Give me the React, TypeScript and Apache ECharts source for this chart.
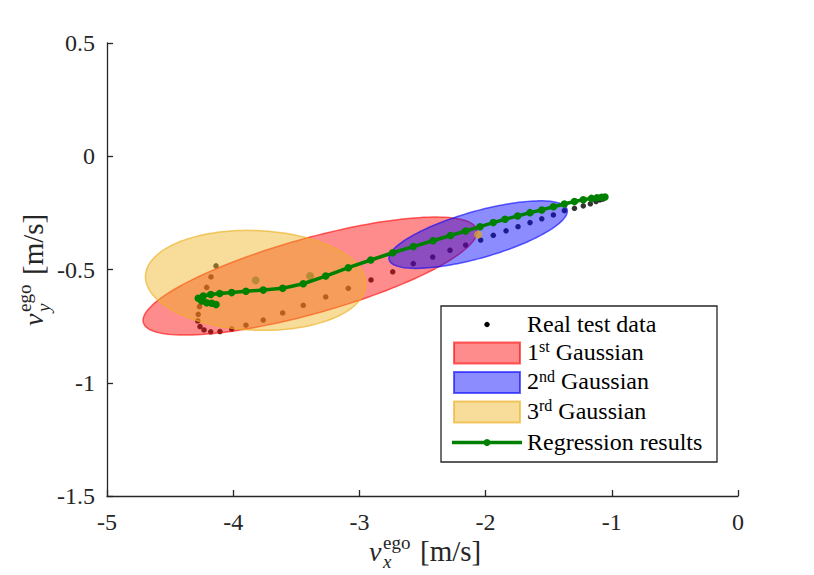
import React, { useEffect, useRef } from "react";
import * as echarts from "echarts";

// Real test data (v_x, v_y) [m/s]
const testX = [-1.070, -1.094, -1.125, -1.170, -1.226, -1.296, -1.376, -1.463, -1.555, -1.648, -1.743, -1.838, -1.939, -2.039, -2.158, -2.282, -2.419, -2.573, -2.736, -2.908, -3.088, -3.267, -3.445, -3.608, -3.762, -3.899, -4.012, -4.105, -4.178, -4.231, -4.263, -4.281, -4.277, -4.267, -4.239, -4.210, -4.176, -4.136];
const testY = [-0.189, -0.193, -0.200, -0.210, -0.219, -0.230, -0.240, -0.259, -0.276, -0.293, -0.311, -0.329, -0.349, -0.370, -0.392, -0.415, -0.445, -0.474, -0.510, -0.546, -0.583, -0.621, -0.658, -0.692, -0.723, -0.746, -0.763, -0.774, -0.775, -0.767, -0.752, -0.727, -0.698, -0.664, -0.621, -0.579, -0.533, -0.484];

// Regression results
const regX = [-1.054, -1.080, -1.117, -1.161, -1.226, -1.296, -1.376, -1.463, -1.555, -1.648, -1.746, -1.846, -1.939, -2.044, -2.158, -2.278, -2.417, -2.573, -2.736, -2.910, -3.088, -3.267, -3.445, -3.608, -3.762, -3.899, -4.012, -4.107, -4.178, -4.237, -4.277, -4.250, -4.210, -4.170, -4.136];
const regY = [-0.180, -0.181, -0.183, -0.186, -0.192, -0.200, -0.211, -0.223, -0.237, -0.249, -0.264, -0.278, -0.293, -0.311, -0.330, -0.350, -0.373, -0.399, -0.426, -0.458, -0.492, -0.529, -0.563, -0.583, -0.591, -0.596, -0.602, -0.606, -0.610, -0.617, -0.627, -0.639, -0.647, -0.649, -0.655];

// Gaussian components: means and covariances (contour drawn at 1 "sigma" of these)
const gaussOrdinals = ["1", "2", "3"];
const gaussSuffixes = ["st", "nd", "rd"];
const gaussMeanX = [-3.391, -2.059, -3.822];
const gaussMeanY = [-0.529, -0.346, -0.548];
const gaussCovXX = [1.751, 0.4996, 0.7625];
const gaussCovXY = [0.2589, 0.0735, -0.0140];
const gaussCovYY = [0.0679, 0.02227, 0.04873];

const xTicks = [-5, -4, -3, -2, -1, 0];
const yTicks = [-1.5, -1, -0.5, 0, 0.5];

const SERIF = "Liberation Serif, Times New Roman, serif";
const AX = "#262626";
const gaussFill = ["rgba(255,0,0,0.45)", "rgba(0,0,255,0.45)", "rgba(237,177,32,0.45)"];
const gaussStroke = ["rgba(255,0,0,0.6)", "rgba(0,0,255,0.6)", "rgba(237,177,32,0.65)"];
const centerColor = ["#a8862a", "#dca02a", "#a8862a"];
const GREEN = "#008000";

function axisTitle(x: number, y: number, sub: string, rotation: number) {
  return {
    type: "group",
    x,
    y,
    rotation,
    children: [
      { type: "text", x: -56, y: 0, style: { text: "v", fontFamily: SERIF, fontStyle: "italic", fontSize: 28, fill: AX, verticalAlign: "middle" } },
      { type: "text", x: -42, y: -9, style: { text: "ego", fontFamily: SERIF, fontSize: 19, fill: AX, verticalAlign: "middle" } },
      { type: "text", x: -42, y: 10, style: { text: sub, fontFamily: SERIF, fontStyle: "italic", fontSize: 19, fill: AX, verticalAlign: "middle" } },
      { type: "text", x: -5, y: 0, style: { text: "[m/s]", fontFamily: SERIF, fontSize: 29, fill: AX, verticalAlign: "middle" } },
    ],
  };
}

export default function App() {
  const ref = useRef<HTMLDivElement>(null);
  useEffect(() => {
    if (!ref.current) return;
    const chart = echarts.init(ref.current, null, { renderer: "svg" });

    const testData = testX.map((x, i) => [x, testY[i]]);
    const regData = regX.map((x, i) => [x, regY[i]]);
    const gaussData = gaussMeanX.map((mx, i) => [mx, gaussMeanY[i], gaussCovXX[i], gaussCovXY[i], gaussCovYY[i]]);
    const centerData = gaussMeanX.map((mx, i) => ({ value: [mx, gaussMeanY[i]], itemStyle: { color: centerColor[i] } }));

    const rowY = [323.5, 353, 382.5, 412, 441.5];
    const legendText = (y: number, text: string, rich?: any) => ({
      type: "text",
      x: 527,
      y,
      z: 102,
      style: {
        text,
        fontFamily: SERIF,
        fontSize: 24,
        fill: "#000",
        verticalAlign: "middle",
        rich,
      },
    });
    const rich = {
      n: { fontFamily: SERIF, fontSize: 24, fill: "#000", lineHeight: 25, verticalAlign: "bottom" },
      s: { fontFamily: SERIF, fontSize: 16, fill: "#000", lineHeight: 15, verticalAlign: "top" },
    };

    const legendEls: any[] = [
      { type: "rect", z: 100, shape: { x: 441, y: 306, width: 276, height: 156 }, style: { fill: "#fff", stroke: AX, lineWidth: 1.3 } },
      { type: "circle", z: 101, shape: { cx: 487, cy: rowY[0] + 1, r: 2.7 }, style: { fill: "#000" } },
      legendText(rowY[0], "Real test data"),
    ];
    gaussOrdinals.forEach((o, i) => {
      legendEls.push({
        type: "rect",
        z: 101,
        shape: { x: 454, y: rowY[i + 1] - 10.5, width: 66, height: 21 },
        style: { fill: gaussFill[i], stroke: gaussStroke[i], lineWidth: 2 },
      });
      legendEls.push(legendText(rowY[i + 1] - 2, `{n|${o}}{s|${gaussSuffixes[i]}}{n| Gaussian}`, rich));
    });
    legendEls.push({ type: "line", z: 101, shape: { x1: 452, y1: rowY[4] + 1, x2: 522, y2: rowY[4] + 1 }, style: { stroke: GREEN, lineWidth: 3.5 } });
    legendEls.push({ type: "circle", z: 102, shape: { cx: 487, cy: rowY[4] + 1, r: 3.5 }, style: { fill: GREEN } });
    legendEls.push(legendText(rowY[4], "Regression results"));

    const option: any = {
      animation: false,
      backgroundColor: "#fff",
      textStyle: { fontFamily: SERIF },
      grid: { left: 107, right: 76, top: 43, bottom: 79, containLabel: false, outerBoundsMode: "none" },
      xAxis: {
        type: "value",
        min: xTicks[0],
        max: xTicks[xTicks.length - 1],
        interval: 1,
        axisLine: { onZero: false, lineStyle: { color: AX, width: 1.3 } },
        axisTick: { inside: true, length: 6, lineStyle: { color: AX, width: 1.3 } },
        axisLabel: { color: AX, fontFamily: SERIF, fontSize: 24, margin: 14 },
        splitLine: { show: false },
      },
      yAxis: {
        type: "value",
        min: yTicks[0],
        max: yTicks[yTicks.length - 1],
        interval: 0.5,
        axisLine: { onZero: false, lineStyle: { color: AX, width: 1.3 } },
        axisTick: { inside: true, length: 6, lineStyle: { color: AX, width: 1.3 } },
        axisLabel: { color: AX, fontFamily: SERIF, fontSize: 24, margin: 12 },
        splitLine: { show: false },
      },
      series: [
        {
          type: "scatter",
          name: "Real test data",
          data: testData,
          symbol: "circle",
          symbolSize: 5.5,
          itemStyle: { color: "#000" },
          z: 2,
        },
        {
          type: "custom",
          name: "Gaussians",
          coordinateSystem: "cartesian2d",
          data: gaussData,
          encode: { x: 0, y: 1 },
          z: 3,
          renderItem: (params: any, api: any) => {
            const mx = api.value(0);
            const my = api.value(1);
            const sxx = api.value(2);
            const sxy = api.value(3);
            const syy = api.value(4);
            const l11 = Math.sqrt(sxx);
            const l21 = sxy / l11;
            const l22 = Math.sqrt(Math.max(syy - l21 * l21, 1e-9));
            const pts: number[][] = [];
            const n = 160;
            for (let k = 0; k < n; k++) {
              const t = (2 * Math.PI * k) / n;
              const u = Math.cos(t);
              const v = Math.sin(t);
              pts.push(api.coord([mx + l11 * u, my + l21 * u + l22 * v]));
            }
            return {
              type: "polygon",
              shape: { points: pts },
              style: { fill: gaussFill[params.dataIndex], stroke: gaussStroke[params.dataIndex], lineWidth: 1.5 },
            };
          },
        },
        {
          type: "scatter",
          name: "Gaussian means",
          data: centerData,
          symbol: "circle",
          symbolSize: 8,
          z: 4,
        },
        {
          type: "line",
          name: "Regression results",
          data: regData,
          symbol: "circle",
          symbolSize: 7.5,
          showSymbol: true,
          lineStyle: { color: GREEN, width: 3.5 },
          itemStyle: { color: GREEN },
          z: 5,
        },
      ],
      graphic: {
        elements: [
          axisTitle(425, 551, "x", 0),
          axisTitle(33, 270, "y", Math.PI / 2),
          ...legendEls,
        ],
      },
    };
    chart.setOption(option);
    return () => chart.dispose();
  }, []);
  return <div ref={ref} style={{ position: "absolute", left: 0, top: 0, width: 814, height: 575 }} />;
}
